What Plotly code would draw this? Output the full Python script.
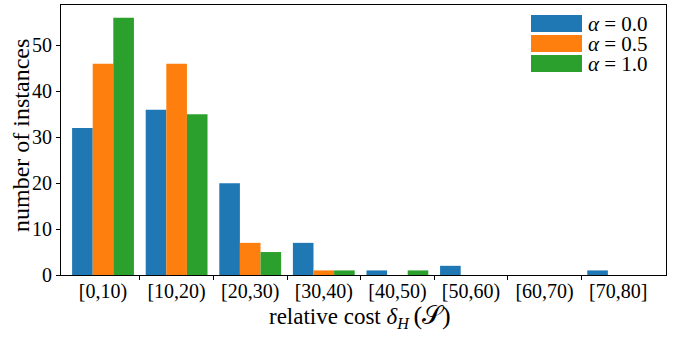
import plotly.graph_objects as go

categories = ["[0,10)", "[10,20)", "[20,30)", "[30,40)", "[40,50)",
              "[50,60)", "[60,70)", "[70,80]"]
alpha_00 = [32, 36, 20, 7, 1, 2, 0, 1]
alpha_05 = [46, 46, 7, 1, 0, 0, 0, 0]
alpha_10 = [56, 35, 5, 1, 1, 0, 0, 0]
series_names = ["0.0", "0.5", "1.0"]
colors = ["#1f77b4", "#ff7f0e", "#2ca02c"]

W, H = 673, 337
ML, MR, MT, MB = 61, 7, 5, 62
FONT = "Liberation Serif"
bw = 0.28

fig = go.Figure()
xs = list(range(len(categories)))
for i, (vals, c) in enumerate(zip([alpha_00, alpha_05, alpha_10], colors)):
    fig.add_trace(go.Bar(
        x=xs, y=vals, width=bw, offset=-1.5 * bw + i * bw,
        marker=dict(color=c, line=dict(width=0)), showlegend=False,
        hoverinfo="skip",
    ))

def px(xp):
    return (xp - ML) / (W - ML - MR)

def py(yp):
    return (H - MB - yp) / (H - MT - MB)

# legend drawn manually (wide patches like the reference)
rows = [(15, 32), (35, 52), (55, 72)]
for (y0, y1), c, name in zip(rows, colors, series_names):
    fig.add_shape(type="rect", xref="paper", yref="paper",
                  x0=px(531), x1=px(582), y0=py(y1), y1=py(y0),
                  fillcolor=c, line=dict(width=0))
    fig.add_annotation(xref="paper", yref="paper", x=px(586), y=py((y0 + y1) / 2),
                       xanchor="left", yanchor="middle", showarrow=False, height=19,
                       text=f"<i>α</i> = {name}", font=dict(family=FONT, size=21, color="black"))

# axis titles
fig.add_annotation(xref="paper", yref="paper", x=px(360), y=py(316),
                   xanchor="center", yanchor="middle", showarrow=False,
                   text="relative cost <i>δ</i><sub><i>H</i></sub>\u2009<span style=\"font-size:26px\">(𝒮)</span>",
                   font=dict(family=FONT, size=23, color="black"))
fig.add_annotation(xref="paper", yref="paper", x=px(21), y=py(136),
                   xanchor="center", yanchor="middle", showarrow=False, textangle=-90,
                   text="number of instances",
                   font=dict(family=FONT, size=24, color="black"))

fig.update_layout(
    width=W, height=H,
    margin=dict(l=ML, r=MR, t=MT, b=MB),
    plot_bgcolor="white", paper_bgcolor="white",
    barmode="overlay",
    font=dict(family=FONT, size=20, color="black"),
    xaxis=dict(
        range=[-0.571, 7.65], automargin=False,
        tickmode="array", tickvals=xs, ticktext=categories, ticks="",
        minor=dict(tickmode="array", tickvals=[k + 0.5 for k in range(7)],
                   ticks="outside", ticklen=4, tickcolor="black", tickwidth=1),
        showline=True, linecolor="black", linewidth=1, mirror=True,
        showgrid=False, zeroline=False, ticklabelstandoff=-2,
        tickfont=dict(family=FONT, size=20),
    ),
    yaxis=dict(
        range=[0, 58.8], automargin=False,
        tickmode="array", tickvals=[0, 10, 20, 30, 40, 50],
        ticks="outside", ticklen=4, tickcolor="black", tickwidth=1,
        showline=True, linecolor="black", linewidth=1, mirror=True,
        showgrid=False, zeroline=False,
        tickfont=dict(family=FONT, size=20),
    ),
)

fig.write_html("out.html", config={"displayModeBar": False},
               post_script="document.body.style.margin='0';document.body.style.overflow='hidden';")
